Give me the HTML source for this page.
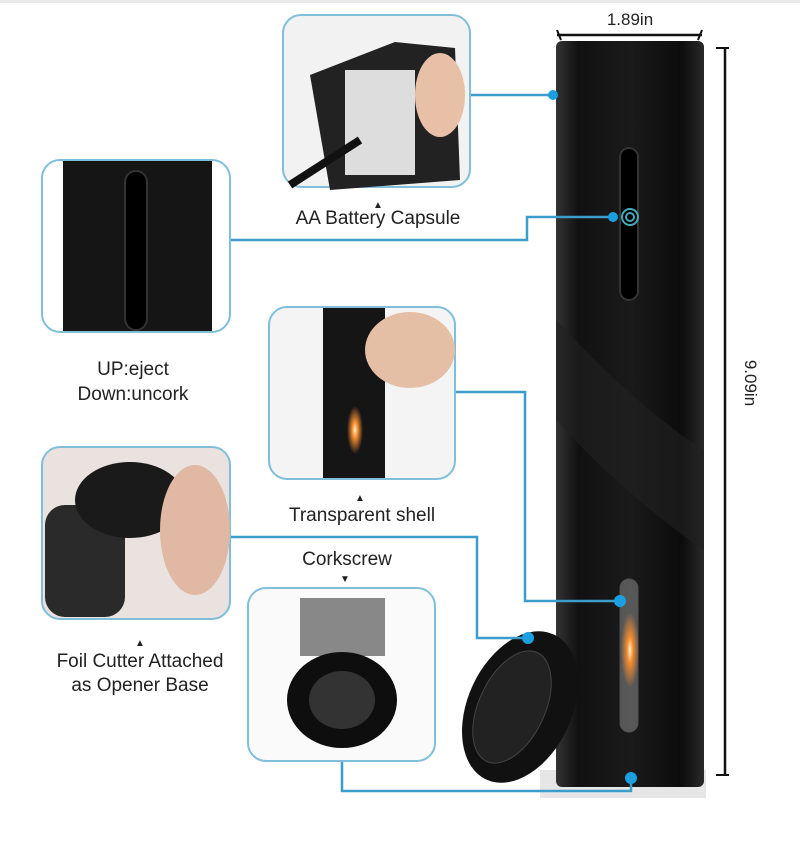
<!DOCTYPE html>
<html><head><meta charset="utf-8"><style>
html,body{margin:0;padding:0;background:#fff;}
svg text{font-family:"Liberation Sans",sans-serif;fill:#222;}
</style></head><body>
<svg width="800" height="856" viewBox="0 0 800 856" xmlns="http://www.w3.org/2000/svg">
<defs>
<linearGradient id="cyl" x1="0" x2="1">
<stop offset="0" stop-color="#333"/><stop offset="0.15" stop-color="#111"/><stop offset="0.5" stop-color="#1a1a1a"/><stop offset="0.85" stop-color="#0c0c0c"/><stop offset="1" stop-color="#2a2a2a"/></linearGradient>
<radialGradient id="glow"><stop offset="0" stop-color="#fff2c0"/><stop offset="0.35" stop-color="#f08a30"/><stop offset="1" stop-color="#f08a30" stop-opacity="0"/></radialGradient>
</defs>
<rect x="0" y="0" width="800" height="3" fill="#e8e8e8"/>
<rect x="540" y="770" width="166" height="28" fill="#e6e6e6"/>
<rect x="556" y="41" width="148" height="746" rx="6" fill="url(#cyl)"/>
<path d="M556 320 Q640 410 704 450 L704 550 Q630 500 556 420 Z" fill="#222" opacity="0.6"/>
<rect x="620" y="148" width="18" height="152" rx="9" fill="#000" stroke="#333" stroke-width="2"/>
<rect x="620" y="579" width="18" height="153" rx="9" fill="#ccc" opacity="0.35" stroke="#bbb"/>
<ellipse cx="630" cy="650" rx="9" ry="38" fill="url(#glow)"/>
<line x1="557" y1="35" x2="702" y2="35" stroke="#111" stroke-width="2.5"/>
<path d="M557 30 L561 40 M702 30 L698 40" stroke="#111" stroke-width="2"/>
<text x="630" y="25" font-size="17" text-anchor="middle">1.89in</text>
<line x1="725" y1="48" x2="725" y2="775" stroke="#111" stroke-width="2.5"/>
<line x1="716" y1="48" x2="729" y2="48" stroke="#111" stroke-width="2"/>
<line x1="716" y1="775" x2="729" y2="775" stroke="#111" stroke-width="2"/>
<text x="745" y="383" font-size="17" text-anchor="middle" transform="rotate(90 745 383)">9.09in</text>
<ellipse cx="520" cy="707" rx="52" ry="80" transform="rotate(25 520 707)" fill="#111"/>
<ellipse cx="512" cy="707" rx="33" ry="60" transform="rotate(25 512 707)" fill="#222" stroke="#444"/>
<g stroke="#3a9dcc" stroke-width="2.5" fill="none">
<path d="M470 95 L553 95"/>
<path d="M231 240 L527 240 L527 217 L615 217"/>
<path d="M456 392 L525 392 L525 601 L620 601"/>
<path d="M230 537 L477 537 L477 638 L528 638"/>
<path d="M342 761 L342 791 L631 791 L631 778"/>
</g>
<g fill="#1aa0e0">
<circle cx="553" cy="95" r="5"/><circle cx="613" cy="217" r="5"/>
<circle cx="620" cy="601" r="6"/><circle cx="528" cy="638" r="6"/><circle cx="631" cy="778" r="6"/>
</g>
<circle cx="630" cy="217" r="8" fill="none" stroke="#4ab" stroke-width="2"/>
<circle cx="630" cy="217" r="4" fill="none" stroke="#4ab" stroke-width="2"/>
<g stroke="#7fbfdc" stroke-width="2">
<rect x="283" y="15" width="187" height="172" rx="18" fill="#f2f2f2"/>
<rect x="42" y="160" width="188" height="172" rx="18" fill="#fff"/>
<rect x="269" y="307" width="186" height="172" rx="18" fill="#f4f4f4"/>
<rect x="42" y="447" width="188" height="172" rx="18" fill="#e9e2df"/>
<rect x="248" y="588" width="187" height="173" rx="18" fill="#fafafa"/>
</g>
<path d="M310 75 L395 42 L455 48 L460 180 L330 190 Z" fill="#222"/>
<rect x="345" y="70" width="70" height="105" fill="#ddd"/>
<path d="M290 185 L360 140" stroke="#111" stroke-width="8"/>
<ellipse cx="440" cy="95" rx="25" ry="42" fill="#e8c0a8"/>
<rect x="63" y="161" width="149" height="170" fill="#151515"/>
<rect x="125" y="171" width="22" height="159" rx="11" fill="#000" stroke="#333" stroke-width="2"/>
<rect x="323" y="308" width="62" height="170" fill="#151515"/>
<ellipse cx="410" cy="350" rx="45" ry="38" fill="#e4bfa6"/>
<ellipse cx="355" cy="430" rx="8" ry="24" fill="url(#glow)"/>
<rect x="45" y="505" width="80" height="112" rx="20" fill="#2a2a2a"/>
<ellipse cx="130" cy="500" rx="55" ry="38" fill="#1a1a1a"/>
<ellipse cx="195" cy="530" rx="35" ry="65" fill="#e0b8a4"/>
<rect x="300" y="598" width="85" height="58" fill="#888"/>
<ellipse cx="342" cy="700" rx="55" ry="48" fill="#0e0e0e"/>
<ellipse cx="342" cy="700" rx="33" ry="29" fill="#333"/>
<g font-size="19">
<text x="378" y="224" text-anchor="middle">AA Battery Capsule</text>
<text x="133" y="375" text-anchor="middle">UP:eject</text>
<text x="133" y="400" text-anchor="middle">Down:uncork</text>
<text x="362" y="521" text-anchor="middle">Transparent shell</text>
<text x="347" y="565" text-anchor="middle">Corkscrew</text>
<text x="140" y="667" text-anchor="middle">Foil Cutter Attached</text>
<text x="140" y="691" text-anchor="middle">as Opener Base</text>
</g>
<g font-size="10" text-anchor="middle">
<text x="378" y="208">▲</text><text x="360" y="501">▲</text><text x="345" y="582">▼</text><text x="140" y="646">▲</text>
</g>
</svg>
</body></html>
